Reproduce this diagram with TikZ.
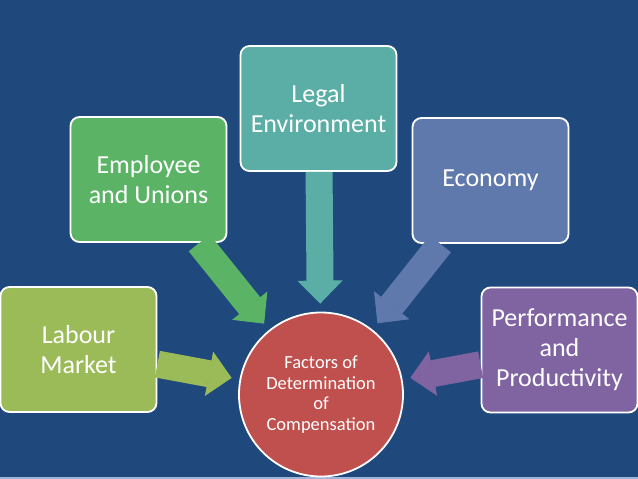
\documentclass[tikz,border=0pt]{standalone}
\usepackage{fontspec}
\setmainfont{Carlito}
\usetikzlibrary{arrows.meta}
\definecolor{bg}{HTML}{1F497D}
\definecolor{strip}{HTML}{9DB5D6}
\definecolor{labc}{HTML}{9BBB59}
\definecolor{empc}{HTML}{5BB466}
\definecolor{legc}{HTML}{5BAEA5}
\definecolor{ecoc}{HTML}{6079AC}
\definecolor{perfc}{HTML}{8064A2}
\definecolor{circc}{HTML}{C0504D}
\begin{document}
\begin{tikzpicture}[x=1pt,y=-1pt,
  box/.style={draw=white, line width=1.8pt, rounded corners=9pt,
    minimum width=156pt, minimum height=125pt, inner sep=2pt,
    text=white, align=center, font=\fontsize{26}{30}\selectfont},
  hub/.style={circle, draw=white, line width=1.8pt, minimum size=164pt,
    inner sep=0pt, text=white, align=center,
    font=\fontsize{18.5}{20.5}\selectfont},
  flow/.style={line width=27pt,
    -{Triangle[length=23pt,width=45pt,line width=1pt]}, shorten >=8pt}]
\fill[bg] (0,0) rectangle (638,479);
\fill[strip] (0,477) rectangle (638,479);
\useasboundingbox (0,0) rectangle (638,479);

\node[box, fill=labc] (lab) at (78.5,349.5) {Labour\\Market};
\node[box, fill=empc] (emp) at (148.5,179.5) {Employee\\and Unions};
\node[box, fill=legc] (leg) at (318.5,108.5) {Legal\\Environment};
\node[box, fill=ecoc] (eco) at (490.5,180.5) {Economy};
\node[box, fill=perfc] (perf) at (559.5,350) {Performance\\and\\Productivity};
\node[hub, fill=circc] (circ) at (321,394.5) {Factors of\\Determination\\of\\Compensation};

\draw[flow, draw=labc] (lab) -- (circ);
\draw[flow, draw=empc] (emp) -- (circ);
\draw[flow, draw=legc] (leg) -- (circ);
\draw[flow, draw=ecoc] (eco) -- (circ);
\draw[flow, draw=perfc] (perf) -- (circ);
\end{tikzpicture}
\end{document}
